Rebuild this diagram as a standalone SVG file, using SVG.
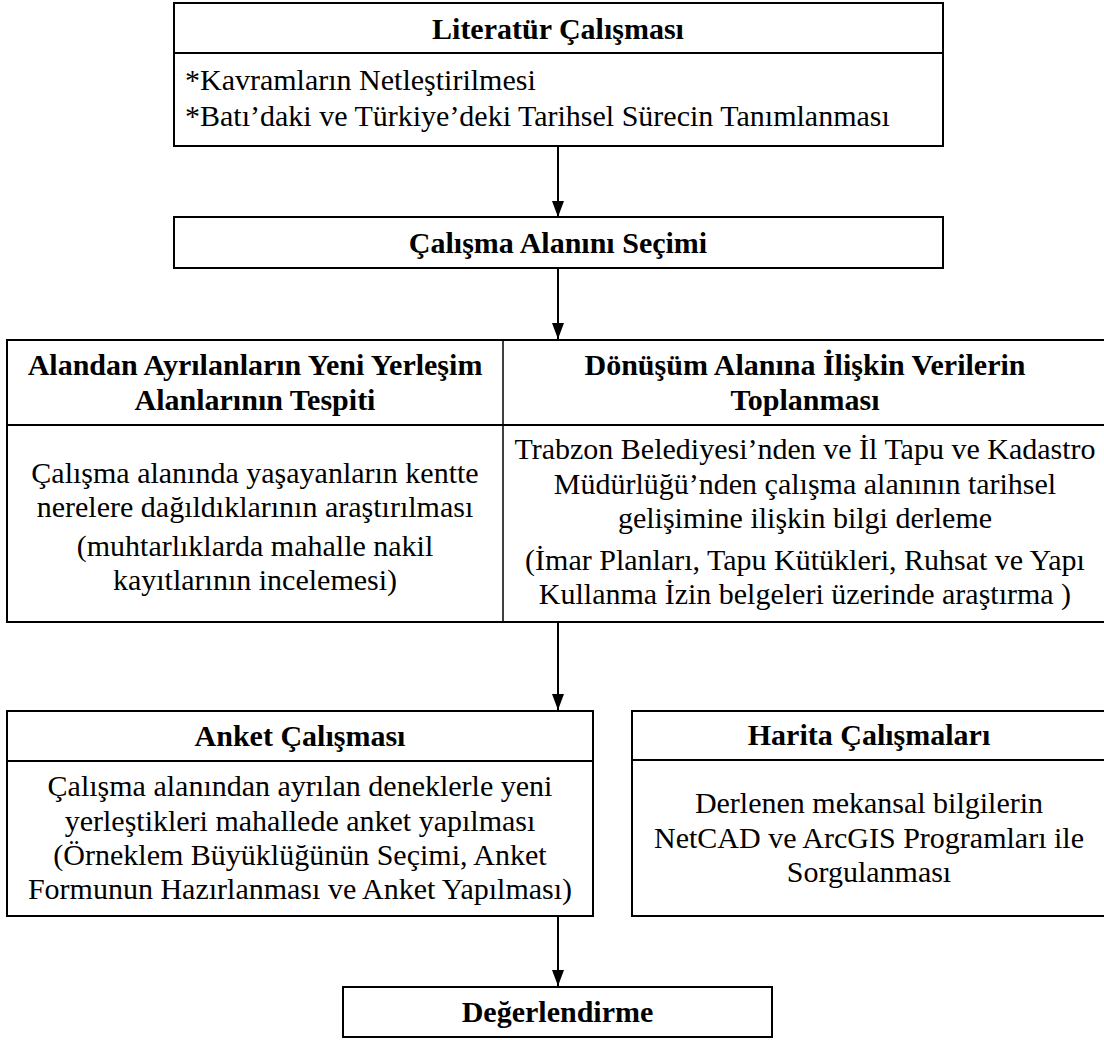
<svg xmlns="http://www.w3.org/2000/svg" width="1104" height="1040" viewBox="0 0 1104 1040">
<style>
  .box { fill: #ffffff; stroke: #000000; stroke-width: 2; }
  .div { stroke: #000000; stroke-width: 2; fill: none; }
  .conn { stroke: #000000; stroke-width: 2; fill: none; }
  .t { font-family: 'Liberation Serif', 'Times New Roman', Times, 'DejaVu Serif', serif; font-size: 30px; fill: #000000; }
  .h { font-weight: bold; text-anchor: middle; }
  .c { text-anchor: middle; }
  .l { text-anchor: start; }
</style>
<defs>
  <marker id="ah" viewBox="0 0 16 12" refX="16" refY="6" markerWidth="16" markerHeight="12" markerUnits="userSpaceOnUse" orient="auto">
    <path d="M0,0 L16,6 L0,12 z" fill="#000000"/>
  </marker>
</defs>
<rect x="0" y="0" width="1104" height="1040" fill="#ffffff"/>

<g id="connectors">
  <line class="conn" x1="558" y1="146" x2="558" y2="217" marker-end="url(#ah)"/>
  <line class="conn" x1="558" y1="268" x2="558" y2="339" marker-end="url(#ah)"/>
  <line class="conn" x1="558" y1="622" x2="558" y2="710" marker-end="url(#ah)"/>
  <line class="conn" x1="558" y1="916" x2="558" y2="986" marker-end="url(#ah)"/>
</g>

<g id="literatur" class="t" font-family="Liberation Serif, serif">
  <rect class="box" x="174" y="3" width="769" height="143"/>
  <line class="div" x1="174" y1="53" x2="943" y2="53"/>
  <text class="t h" x="558" y="39">Literatür Çalışması</text>
  <text class="t l" x="185" y="90">*Kavramların Netleştirilmesi</text>
  <text class="t l" x="185" y="126">*Batı’daki ve Türkiye’deki Tarihsel Sürecin Tanımlanması</text>
</g>

<g id="alan-secimi">
  <rect class="box" x="174" y="217" width="769" height="51"/>
  <text class="t h" x="558" y="253">Çalışma Alanını Seçimi</text>
</g>

<g id="tablo">
  <rect class="box" x="7" y="340" width="1100" height="282"/>
  <line class="div" x1="7" y1="425" x2="1107" y2="425"/>
  <line class="div" x1="503" y1="340" x2="503" y2="622" style="stroke-width:1.5"/>
</g>

<g id="yeni-yerlesim">
  <text class="t h" x="255" y="375">Alandan Ayrılanların Yeni Yerleşim</text>
  <text class="t h" x="255" y="410">Alanlarının Tespiti</text>
  <text class="t c" x="255" y="483">Çalışma alanında yaşayanların kentte</text>
  <text class="t c" x="255" y="517">nerelere dağıldıklarının araştırılması</text>
  <text class="t c" x="255" y="556">(muhtarlıklarda mahalle nakil</text>
  <text class="t c" x="255" y="590">kayıtlarının incelemesi)</text>
</g>

<g id="veri-toplama">
  <text class="t h" x="805" y="375">Dönüşüm Alanına İlişkin Verilerin</text>
  <text class="t h" x="805" y="410">Toplanması</text>
  <text class="t c" x="805" y="459">Trabzon Belediyesi’nden ve İl Tapu ve Kadastro</text>
  <text class="t c" x="805" y="494">Müdürlüğü’nden çalışma alanının tarihsel</text>
  <text class="t c" x="805" y="528">gelişimine ilişkin bilgi derleme</text>
  <text class="t c" x="805" y="570">(İmar Planları, Tapu Kütükleri, Ruhsat ve Yapı</text>
  <text class="t c" x="805" y="604">Kullanma İzin belgeleri üzerinde araştırma )</text>
</g>

<g id="anket">
  <rect class="box" x="7" y="711" width="586" height="205"/>
  <line class="div" x1="7" y1="761" x2="593" y2="761"/>
  <text class="t h" x="300" y="746">Anket Çalışması</text>
  <text class="t c" x="300" y="796">Çalışma alanından ayrılan deneklerle yeni</text>
  <text class="t c" x="300" y="831">yerleştikleri mahallede anket yapılması</text>
  <text class="t c" x="300" y="865">(Örneklem Büyüklüğünün Seçimi, Anket</text>
  <text class="t c" x="300" y="899">Formunun Hazırlanması ve Anket Yapılması)</text>
</g>

<g id="harita">
  <rect class="box" x="632" y="711" width="475" height="205"/>
  <line class="div" x1="632" y1="760" x2="1107" y2="760"/>
  <text class="t h" x="869" y="745">Harita Çalışmaları</text>
  <text class="t c" x="869" y="813">Derlenen mekansal bilgilerin</text>
  <text class="t c" x="869" y="848">NetCAD ve ArcGIS Programları ile</text>
  <text class="t c" x="869" y="882">Sorgulanması</text>
</g>

<g id="degerlendirme">
  <rect class="box" x="343" y="987" width="429" height="50"/>
  <text class="t h" x="557.5" y="1022">Değerlendirme</text>
</g>
</svg>
